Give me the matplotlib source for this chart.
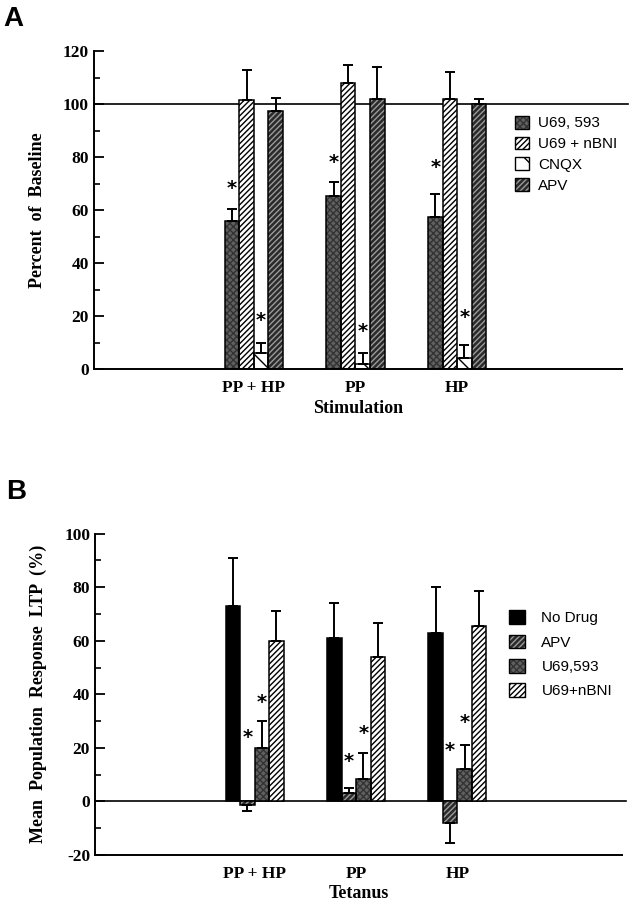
import numpy as np
import matplotlib
matplotlib.use('Agg')
import matplotlib.pyplot as plt
from matplotlib.patches import Patch
from matplotlib.legend_handler import HandlerTuple

# ---------------- data ----------------
groups = ['PP + HP', 'PP', 'HP']

# panel A : percent of baseline
a_names = ['U69, 593', 'U69 + nBNI', 'CNQX', 'APV']
a_u69 = [56, 65.5, 57.5]
a_u69_err = [4.5, 5, 8.5]
a_nbni = [101.5, 108, 102]
a_nbni_err = [11.5, 7, 10]
a_cnqx = [6, 2, 4]
a_cnqx_err = [4, 4, 5]
a_apv = [97.5, 102, 100]
a_apv_err = [5, 12, 2]
a_star_u69 = [68, 78, 76]
a_star_cnqx = [18.5, 14, 19.5]

# panel B : mean population response LTP (%)
b_names = ['No Drug', 'APV', 'U69,593', 'U69+nBNI']
b_nodrug = [73, 61, 63]
b_nodrug_err = [18, 13, 17]
b_apv = [-1.5, 3, -8]
b_apv_err = [2, 2, 7.5]
b_u69 = [20, 8.5, 12]
b_u69_err = [10, 9.5, 9]
b_nbni = [60, 54, 65.5]
b_nbni_err = [11, 12.5, 13]
b_star_apv = [24, 15, 19]
b_star_u69 = [37, 25.5, 29.5]

# bar styles: (facecolor, hatch colour, hatch)
STY_U69 = ('#606060', '#333333', 'xxxxx')
STY_NBNI = ('white', 'black', '//////')
STY_CNQX = ('white', 'black', '\\')
STY_APV = ('#2a2a2a', '#9a9a9a', '//////')
STY_NODRUG = ('black', 'black', None)

SERIF = 'Liberation Serif'
SANS = 'Liberation Sans'
TICKFONT = 12.5
LABFONT = 13
LEGFONT = 11

plt.rcParams['axes.unicode_minus'] = False

W = 0.143
x = np.arange(1, 4)
XLIM = (-0.576, 4.624)


def draw_bars(ax, xs, vals, errs, sty):
    fc, hc, hatch = sty
    ax.bar(xs, vals, W, color=fc, edgecolor=hc, hatch=hatch, linewidth=0, zorder=2)
    ax.bar(xs, vals, W, fill=False, edgecolor='black', linewidth=1.1, zorder=3)
    lower = [e if v < 0 else 0 for v, e in zip(vals, errs)]
    upper = [0 if v < 0 else e for v, e in zip(vals, errs)]
    ax.errorbar(xs, vals, yerr=[lower, upper], fmt='none', ecolor='black',
                elinewidth=1.4, capsize=3.5, capthick=1.4, zorder=4)


def handle(sty):
    fc, hc, hatch = sty
    return (Patch(facecolor=fc, edgecolor=hc, hatch=hatch, linewidth=0),
            Patch(fill=False, edgecolor='black', linewidth=1.0))


def style_axes(ax, ylim, major, minor):
    ax.set_ylim(*ylim)
    ax.set_xlim(*XLIM)
    ax.spines['top'].set_visible(False)
    ax.spines['right'].set_visible(False)
    for s in ['left', 'bottom']:
        ax.spines[s].set_linewidth(1.4)
    ax.set_yticks(np.arange(ylim[0], ylim[1] + 1, major))
    ax.set_yticks(np.arange(ylim[0], ylim[1] + 1, minor), minor=True)
    ax.tick_params(axis='y', which='major', direction='in', length=7, width=1.3)
    ax.tick_params(axis='y', which='minor', direction='in', length=4, width=1.2)
    ax.set_xticks(x)
    ax.set_xticklabels(groups)
    ax.tick_params(axis='x', length=0, pad=8)
    for lab in ax.get_xticklabels() + ax.get_yticklabels():
        lab.set_fontfamily(SERIF)
        lab.set_fontweight('bold')
        lab.set_fontsize(TICKFONT)


def star(ax, xs, ys):
    for xi, y in zip(xs, ys):
        ax.text(xi, y, '*', ha='center', va='center', fontsize=14, fontweight='bold')


def main():
    fig = plt.figure(figsize=(6.29, 9.0), dpi=100)
    hmap = {tuple: HandlerTuple(ndivide=1, pad=0)}

    # ---------------- panel A ----------------
    axA = fig.add_axes([0.149, 0.59, 0.84, 0.353])
    offs = np.array([-1.5, -0.5, 0.5, 1.5]) * W
    draw_bars(axA, x + offs[0], a_u69, a_u69_err, STY_U69)
    draw_bars(axA, x + offs[1], a_nbni, a_nbni_err, STY_NBNI)
    draw_bars(axA, x + offs[2], a_cnqx, a_cnqx_err, STY_CNQX)
    draw_bars(axA, x + offs[3], a_apv, a_apv_err, STY_APV)
    axA.plot([XLIM[0], XLIM[1] + 0.06], [100, 100], color='black', lw=1.2, clip_on=False, zorder=1)
    star(axA, x + offs[0], a_star_u69)
    star(axA, x + offs[2], a_star_cnqx)
    style_axes(axA, (0, 120), 20, 10)
    axA.set_xlabel('Stimulation', fontfamily=SERIF, fontweight='bold', fontsize=LABFONT)
    axA.xaxis.set_label_coords(0.5, -0.099)
    axA.set_ylabel('Percent  of  Baseline', fontfamily=SERIF, fontweight='bold', fontsize=LABFONT, labelpad=12)
    axA.legend([handle(s) for s in [STY_U69, STY_NBNI, STY_CNQX, STY_APV]], a_names,
               handler_map=hmap, loc='upper left', bbox_to_anchor=(0.772, 0.84), frameon=False,
               prop={'family': SANS, 'size': LEGFONT}, handlelength=0.9, handleheight=0.9,
               handletextpad=0.6, labelspacing=0.4)

    # ---------------- panel B ----------------
    axB = fig.add_axes([0.151, 0.05, 0.838, 0.357])
    draw_bars(axB, x + offs[0], b_nodrug, b_nodrug_err, STY_NODRUG)
    draw_bars(axB, x + offs[1], b_apv, b_apv_err, STY_APV)
    draw_bars(axB, x + offs[2], b_u69, b_u69_err, STY_U69)
    draw_bars(axB, x + offs[3], b_nbni, b_nbni_err, STY_NBNI)
    axB.plot([XLIM[0], XLIM[1] + 0.04], [0, 0], color='black', lw=1.2, clip_on=False, zorder=1)
    star(axB, x + offs[1], b_star_apv)
    star(axB, x + offs[2], b_star_u69)
    style_axes(axB, (-20, 100), 20, 10)
    axB.set_xlabel('Tetanus', fontfamily=SERIF, fontweight='bold', fontsize=LABFONT)
    axB.xaxis.set_label_coords(0.5, -0.092)
    axB.set_ylabel('Mean  Population  Response  LTP  (%)', fontfamily=SERIF, fontweight='bold',
                   fontsize=LABFONT, labelpad=12)
    axB.legend([handle(s) for s in [STY_NODRUG, STY_APV, STY_U69, STY_NBNI]], b_names,
               handler_map=hmap, loc='upper left', bbox_to_anchor=(0.76, 0.804), frameon=False,
               prop={'family': SANS, 'size': LEGFONT}, handlelength=1.0, handleheight=1.0,
               handletextpad=1.1, labelspacing=0.6)

    fig.text(0.006, 0.993, 'A', fontfamily=SANS, fontweight='bold', fontsize=20, va='top')
    fig.text(0.01, 0.468, 'B', fontfamily=SANS, fontweight='bold', fontsize=20, va='top')

    fig.savefig('out.png', dpi=100)


if __name__ == "__main__":
    main()
